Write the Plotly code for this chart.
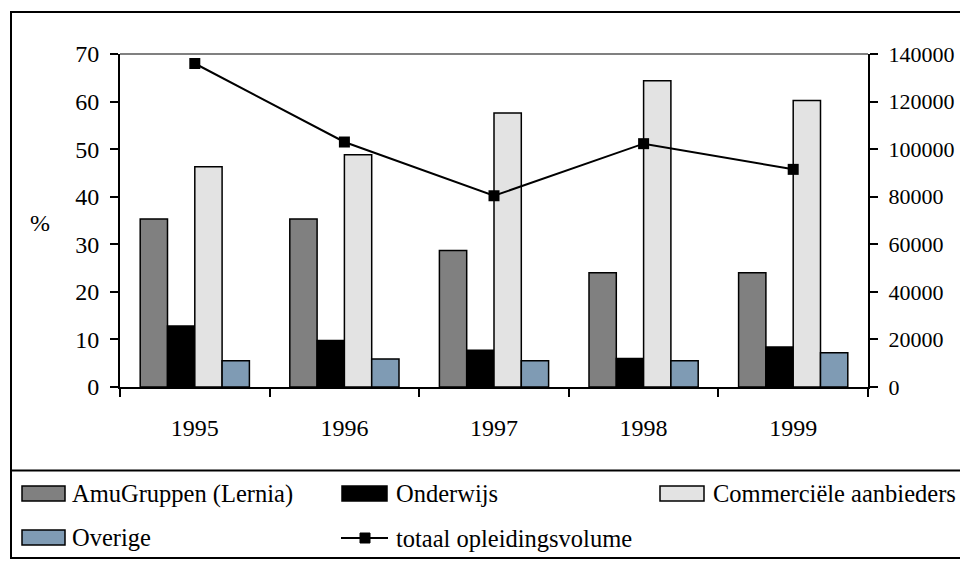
import plotly.graph_objects as go

years = ["1995", "1996", "1997", "1998", "1999"]
amu = [35.3, 35.3, 28.7, 24.0, 24.0]
onderwijs = [12.8, 9.8, 7.7, 6.0, 8.4]
commercieel = [46.3, 48.8, 57.6, 64.4, 60.2]
overige = [5.5, 5.9, 5.5, 5.5, 7.2]
totaal = [136000, 103000, 80400, 102300, 91500]

names = ["AmuGruppen (Lernia)", "Onderwijs", "Commerciële aanbieders", "Overige", "totaal opleidingsvolume"]
colors = ["#808080", "#000000", "#E3E3E3", "#7F9BB4"]

# the page body has an 8px margin, so figure pixel = screen pixel - OFF
OFF = 8
W, H = 960, 553
L, R, T, B = 120 - OFF, 868 - OFF, 54 - OFF, 387 - OFF
FONT = "Liberation Serif, Times New Roman, Times, serif"
FS = 24

def px(x):
    return (x - OFF - L) / (R - L)

def py(y):
    return (B - (y - OFF)) / (B - T)

fig = go.Figure()
for vals, nm, col in zip([amu, onderwijs, commercieel, overige], names[:4], colors):
    fig.add_trace(go.Bar(x=years, y=vals, name=nm, marker=dict(color=col, line=dict(color="black", width=1.5)),
                         showlegend=False, yaxis="y"))
fig.add_trace(go.Scatter(x=years, y=totaal, name=names[4], mode="lines+markers", yaxis="y2",
                         line=dict(color="black", width=2),
                         marker=dict(symbol="square", size=11, color="black"), showlegend=False))

axfont = dict(family=FONT, size=FS, color="black")
rfont = dict(family=FONT, size=22, color="black")
legfont = dict(family=FONT, size=24.5, color="black")
fig.update_layout(
    width=W, height=H,
    margin=dict(l=L, r=W - R, t=T, b=H - B, pad=0, autoexpand=False),
    paper_bgcolor="white", plot_bgcolor="white",
    barmode="group", bargap=0.27, bargroupgap=0,
    font=axfont,
    xaxis=dict(type="category", tickson="boundaries", ticks="outside", ticklen=8, tickwidth=2, tickcolor="black",
               showline=True, linecolor="black", linewidth=2, showgrid=False, tickfont=axfont,
               ticklabelstandoff=18, automargin=False),
    yaxis=dict(range=[0, 70], dtick=10, ticks="outside", ticklen=8, tickwidth=2, tickcolor="black",
               showline=True, linecolor="black", linewidth=2, showgrid=False, zeroline=False, tickfont=axfont,
               ticklabelstandoff=6, automargin=False),
    yaxis2=dict(range=[0, 140000], dtick=20000, tickformat="d", overlaying="y", side="right", anchor="x",
                ticks="outside", ticklen=8, tickwidth=2, tickcolor="black",
                showline=True, linecolor="black", linewidth=2, showgrid=False, zeroline=False, tickfont=rfont,
                ticklabelstandoff=6, automargin=False),
    yaxis3=dict(range=[0, 140000], dtick=20000, overlaying="y", side="right", anchor="x",
                ticks="inside", ticklen=8, tickwidth=2, tickcolor="black",
                showline=False, showgrid=False, zeroline=False, showticklabels=False, automargin=False),
)

shapes = []
# grey top border of plot area
shapes.append(dict(type="line", xref="paper", yref="paper", x0=0, x1=1, y0=1, y1=1,
                   line=dict(color="#808080", width=2)))
# outer frame
shapes.append(dict(type="rect", xref="paper", yref="paper", x0=px(11), x1=px(990), y0=py(12), y1=py(558),
                   line=dict(color="black", width=2), layer="below"))
# legend separator
shapes.append(dict(type="line", xref="paper", yref="paper", x0=px(11), x1=px(990), y0=py(470.5), y1=py(470.5),
                   line=dict(color="black", width=2)))

annotations = []
legend_items = [
    (0, 22, 65, 486, 501, 70),
    (1, 342, 387, 486, 501, 394),
    (2, 660, 704, 486, 501, 711),
    (3, 22, 65, 530, 545, 70),
]
for idx, x0, x1, y0, y1, tx in legend_items:
    shapes.append(dict(type="rect", xref="paper", yref="paper", x0=px(x0), x1=px(x1), y0=py(y0), y1=py(y1),
                       fillcolor=colors[idx], line=dict(color="black", width=1.5)))
    annotations.append(dict(xref="paper", yref="paper", x=px(tx), y=py((y0 + y1) / 2), text=names[idx],
                            showarrow=False, xanchor="left", yanchor="middle", font=legfont))
# line legend
shapes.append(dict(type="line", xref="paper", yref="paper", x0=px(341), x1=px(388), y0=py(538), y1=py(538),
                   line=dict(color="black", width=2)))
shapes.append(dict(type="rect", xref="paper", yref="paper", x0=px(360), x1=px(370), y0=py(533), y1=py(543),
                   fillcolor="black", line=dict(color="black", width=1)))
annotations.append(dict(xref="paper", yref="paper", x=px(394), y=py(538), text=names[4],
                        showarrow=False, xanchor="left", yanchor="middle", font=legfont))
# % label
annotations.append(dict(xref="paper", yref="paper", x=px(40), y=py(223), text="%",
                        showarrow=False, xanchor="center", yanchor="middle", font=axfont))

fig.update_layout(shapes=shapes, annotations=annotations)
fig.write_html("out.html")
